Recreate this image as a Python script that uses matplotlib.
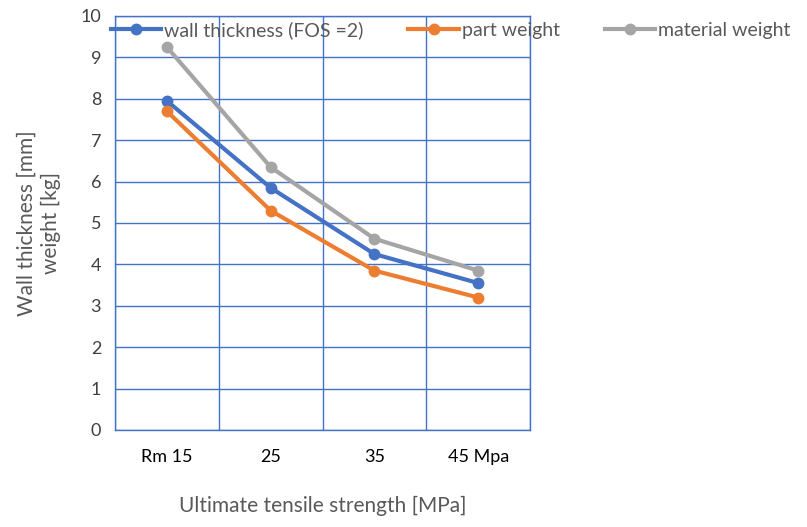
import numpy as np
import matplotlib.pyplot as plt

plt.rcParams['font.family'] = ['Lato', 'DejaVu Sans']

categories = ['Rm 15', '25', '35', '45 Mpa']
wall_thickness = [7.95, 5.85, 4.25, 3.55]
part_weight = [7.7, 5.3, 3.85, 3.2]
material_weight = [9.25, 6.35, 4.62, 3.85]

fig = plt.figure(figsize=(8.07, 5.27), dpi=100)
ax = fig.add_axes([115/807, 1-430/527, 415/807, 414/527])

x = np.arange(len(categories))
ax.plot(x, wall_thickness, color='#4472C4', lw=3, marker='o', ms=7.5, label='wall thickness (FOS =2)', zorder=3)
ax.plot(x, part_weight, color='#ED7D31', lw=3, marker='o', ms=7.5, label='part weight', zorder=3)
ax.plot(x, material_weight, color='#A5A5A5', lw=3, marker='o', ms=7.5, label='material weight', zorder=3)

ax.set_xlim(-0.5, len(categories)-0.5)
ax.set_ylim(0, 10)
ax.set_yticks(np.arange(0, 11, 1))
ax.set_xticks(x)
ax.set_xticklabels(categories)
# category boundary gridlines like excel
ax.set_xticks(np.arange(-0.5, len(categories), 1), minor=True)
ax.grid(True, which='minor', axis='x', color='#4472C4', lw=1)
ax.grid(True, which='major', axis='y', color='#4472C4', lw=1)
ax.tick_params(axis='both', which='both', length=0)
ax.tick_params(axis='x', pad=14, labelsize=13, labelcolor='black')
ax.tick_params(axis='y', pad=10, labelsize=13, labelcolor='#404040')
for s in ax.spines.values():
    s.set_color('#4472C4')
    s.set_linewidth(1)

ax.set_xlabel('Ultimate tensile strength [MPa]', fontsize=15, color='#595959', labelpad=22)
ax.set_ylabel('Wall thickness [mm]\nweight [kg]', fontsize=15, color='#595959', labelpad=14,
              linespacing=1.25, multialignment='center')

leg = ax.legend(loc='center left', bbox_to_anchor=(-12/415, 1-14/414), ncol=3, frameon=False,
                fontsize=14, handlelength=2.6, handletextpad=0.15, columnspacing=2.3,
                borderaxespad=0, labelcolor='#595959')

fig.savefig('out.png', dpi=100)
